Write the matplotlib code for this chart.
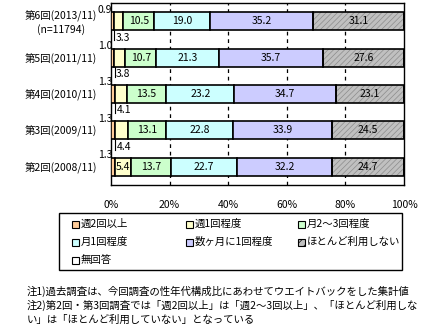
import matplotlib
matplotlib.use('Agg')
import matplotlib.pyplot as plt
import numpy as np
from matplotlib.patches import Rectangle

plt.rcParams['font.family'] = ['Noto Sans CJK JP', 'DejaVu Sans']
plt.rcParams['font.size'] = 7.5
plt.rcParams['hatch.linewidth'] = 0.5

rounds = ['第6回(2013/11)\n(n=11794)', '第5回(2011/11)', '第4回(2010/11)',
          '第3回(2009/11)', '第2回(2008/11)']
categories = ['週2回以上', '週1回程度', '月2〜3回程度', '月1回程度',
              '数ヶ月に1回程度', 'ほとんど利用しない', '無回答']

weekly_2plus = [0.9, 1.0, 1.3, 1.3, 1.3]
weekly_1 = [3.3, 3.8, 4.1, 4.4, 5.4]
monthly_2to3 = [10.5, 10.7, 13.5, 13.1, 13.7]
monthly_1 = [19.0, 21.3, 23.2, 22.8, 22.7]
few_months = [35.2, 35.7, 34.7, 33.9, 32.2]
rarely = [31.1, 27.6, 23.1, 24.5, 24.7]
no_answer = [0.0, 0.0, 0.0, 0.0, 0.0]

series = [weekly_2plus, weekly_1, monthly_2to3, monthly_1, few_months, rarely, no_answer]
colors = ['#FFCC99', '#FFFFCC', '#CCFFCC', '#CCFFFF', '#CCCCFF', '#C0C0C0', '#FFFFFF']
xticks = [0, 20, 40, 60, 80, 100]

W, H = 422, 324


def fx(px):
    return px / W


def fy(py):
    return 1 - py / H


fig = plt.figure(figsize=(W / 100, H / 100), dpi=100)
ax = fig.add_axes([fx(111), fy(185), 293 / W, 182 / H])

y = np.arange(len(rounds))
bar_h = 0.5
left = np.zeros(len(rounds))
for k, vals in enumerate(series):
    vals = np.array(vals)
    if k == 5:
        # hatched fill first, then black outline on top
        ax.barh(y, vals, left=left, height=bar_h, color=colors[k],
                edgecolor='#8c8c8c', hatch='//////', linewidth=0, zorder=2)
        ax.barh(y, vals, left=left, height=bar_h, fill=False,
                edgecolor='black', linewidth=1.2, zorder=3)
    else:
        ax.barh(y, vals, left=left, height=bar_h, color=colors[k],
                edgecolor='black', linewidth=1.2, zorder=3)
    for i, v in enumerate(vals):
        if k == 0:
            ax.text(0.4, y[i] - bar_h / 2 - 0.07, f'{v:.1f}', ha='right', va='center',
                    fontsize=7.5, zorder=5, clip_on=False)
        elif k == 1 and v < 5:
            ax.plot([left[i] + 0.2, left[i] + 0.2],
                    [y[i] + bar_h / 2, y[i] + bar_h / 2 + 0.28],
                    color='black', lw=0.8, zorder=5)
            ax.text(left[i] + 0.6, y[i] + bar_h / 2 + 0.2, f'{v:.1f}', ha='left',
                    va='center', fontsize=7.5, zorder=5)
        elif v > 0:
            ax.text(left[i] + v / 2, y[i], f'{v:.1f}', ha='center', va='center',
                    fontsize=7.5, zorder=5)
    left = left + vals

ax.set_xlim(0, 100)
ax.set_ylim(len(rounds) - 0.5, -0.5)
ax.set_xticks(xticks)
ax.set_xticklabels([f'{t}%' for t in xticks])
ax.set_yticks(y)
ax.set_yticklabels(rounds, multialignment='center')
ax.tick_params(axis='x', length=0, pad=11)
ax.tick_params(axis='y', length=0, pad=10)
for t in xticks[1:-1]:
    ax.axvline(t, color='black', lw=0.9, ls=(0, (3, 3)), zorder=1)
for s in ax.spines.values():
    s.set_color('black')
    s.set_linewidth(1.0)

# legend box, filled row by row in three columns
fig.add_artist(Rectangle((fx(59), fy(270)), 343 / W, 57 / H, transform=fig.transFigure,
                         facecolor='white', edgecolor='black', linewidth=1.0))
col_x = [72, 186, 298]
row_y = [224, 242, 260]
for k, name in enumerate(categories):
    cx = col_x[k % 3]
    cy = row_y[k // 3]
    fig.add_artist(Rectangle((fx(cx), fy(cy + 3.5)), 7 / W, 7 / H,
                             transform=fig.transFigure, facecolor=colors[k],
                             edgecolor='black', linewidth=0.8,
                             hatch='////' if k == 5 else None))
    fig.text(fx(cx + 9), fy(cy), name, ha='left', va='center', fontsize=7.5)

notes = ['注1)過去調査は、今回調査の性年代構成比にあわせてウエイトバックをした集計値',
         '注2)第2回・第3回調査では「週2回以上」は「週2〜3回以上」、「ほとんど利用しな',
         'い」は「ほとんど利用していない」となっている']
for j, line in enumerate(notes):
    fig.text(fx(27), fy(291 + j * 14.5), line, ha='left', va='center', fontsize=7.5)

fig.savefig('out.png', dpi=100)
